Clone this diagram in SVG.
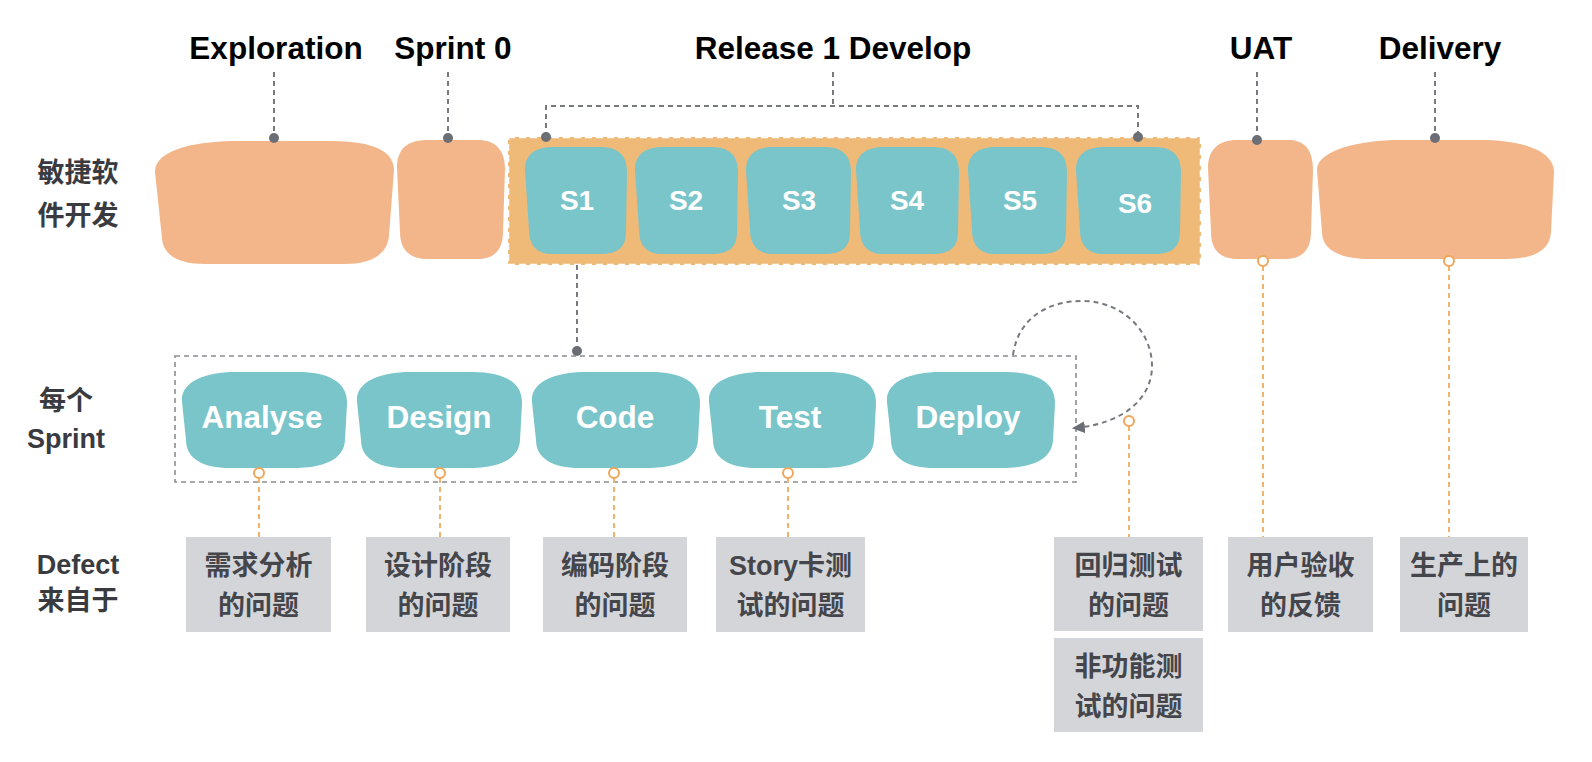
<svg xmlns="http://www.w3.org/2000/svg" width="1592" height="762" viewBox="0 0 1592 762">
<style>
.title{font-family:"Liberation Sans",Arial,sans-serif;font-weight:700;font-size:31.5px;fill:#000;text-anchor:middle}
.side{font-family:"Liberation Sans","Noto Sans CJK SC",sans-serif;font-weight:700;font-size:27px;fill:#3a3b40;text-anchor:middle}
.blob{fill:#F2B68A}
.teal{fill:#7AC5CA}
.slab{font-family:"Liberation Sans",Arial,sans-serif;font-weight:700;font-size:28px;fill:#fff;text-anchor:middle}
.plab{font-family:"Liberation Sans",Arial,sans-serif;font-weight:700;font-size:31.5px;fill:#fff;text-anchor:middle}
.gline{fill:none;stroke:#76797f;stroke-width:2;stroke-dasharray:5 4}
.dot{fill:#6B6E75}
.oline{fill:none;stroke:#F0B36E;stroke-width:2;stroke-dasharray:5 4}
.ocirc{fill:#fff;stroke:#F0A65A;stroke-width:2}
.box{fill:#D4D5D9}
.btxt{font-family:"Liberation Sans","Noto Sans CJK SC",sans-serif;font-weight:700;font-size:27px;fill:#45464b;text-anchor:middle}
</style>
<defs>
<marker id="arr" viewBox="0 0 12 12" refX="10" refY="6" markerWidth="13" markerHeight="13" orient="auto" markerUnits="userSpaceOnUse">
<path d="M0,0.5 L12,6 L0,11.5 Z" fill="#6B6E75"/>
</marker>
</defs>
<rect width="1592" height="762" fill="#fff"/>

<g id="side-labels">
<text class="side" x="78" y="182">敏捷软</text>
<text class="side" x="78" y="225">件开发</text>
<text class="side" x="66" y="410">每个</text>
<text class="side" x="66" y="448">Sprint</text>
<text class="side" x="78" y="574">Defect</text>
<text class="side" x="78" y="610">来自于</text>
</g>

<g id="titles">
<text class="title" x="276" y="59">Exploration</text>
<text class="title" x="453" y="59">Sprint 0</text>
<text class="title" x="833" y="59">Release 1 Develop</text>
<text class="title" x="1261" y="59">UAT</text>
<text class="title" x="1440" y="59">Delivery</text>
</g>

<g id="exploration">
<path class="blob" d="M155,172 C155,148 200,141 240,141 L330,141 C375,141 394,152 394,170 L389,235 C388,255 370,264 345,264 L205,264 C180,264 163,256 162,238 Z"/>
</g>
<g id="sprint0">
<path class="blob" d="M397,168 C397,148 408,140 428,140 L478,140 C495,140 505,150 505,168 L503,232 C503,250 494,259 478,259 L427,259 C410,259 400,250 400,232 Z"/>
</g>
<g id="release1">
<rect x="508" y="137" width="693" height="128" fill="#EFB978" stroke="#fff" stroke-width="2.5" stroke-dasharray="7 4"/>
</g>
<g id="s1">
<path class="teal" d="M525,170 C525,153 537,147 553,147 L600,147 C618,147 627,155 627,172 L626,232 C626,248 617,254 601,254 L552,254 C538,254 529,246 529,230 Z"/>
<text class="slab" x="577" y="210">S1</text>
</g>
<g id="s2">
<path class="teal" d="M635,170 C635,153 647,147 663,147 L711,147 C729,147 738,155 738,172 L737,232 C737,248 728,254 712,254 L662,254 C648,254 639,246 639,230 Z"/>
<text class="slab" x="686" y="210">S2</text>
</g>
<g id="s3">
<path class="teal" d="M746,170 C746,153 758,147 774,147 L824,147 C842,147 851,155 851,172 L850,232 C850,248 841,254 825,254 L773,254 C759,254 750,246 750,230 Z"/>
<text class="slab" x="799" y="210">S3</text>
</g>
<g id="s4">
<path class="teal" d="M856,170 C856,153 868,147 884,147 L932,147 C950,147 959,155 959,172 L958,232 C958,248 949,254 933,254 L883,254 C869,254 860,246 860,230 Z"/>
<text class="slab" x="907" y="210">S4</text>
</g>
<g id="s5">
<path class="teal" d="M968,170 C968,153 980,147 996,147 L1040,147 C1058,147 1067,155 1067,172 L1066,232 C1066,248 1057,254 1041,254 L995,254 C981,254 972,246 972,230 Z"/>
<text class="slab" x="1020" y="210">S5</text>
</g>
<g id="s6">
<path class="teal" d="M1076,170 C1076,153 1088,147 1104,147 L1154,147 C1172,147 1181,155 1181,172 L1180,232 C1180,248 1171,254 1155,254 L1103,254 C1089,254 1080,246 1080,230 Z"/>
<text class="slab" x="1135" y="213">S6</text>
</g>
<g id="uat">
<path class="blob" d="M1208,168 C1208,150 1218,140 1238,140 L1288,140 C1305,140 1313,150 1313,170 L1311,232 C1311,250 1302,259 1285,259 L1238,259 C1220,259 1211,250 1211,232 Z"/>
</g>
<g id="delivery">
<path class="blob" d="M1317,170 C1317,150 1360,140 1400,140 L1480,140 C1525,140 1554,152 1554,172 L1551,232 C1550,250 1535,259 1505,259 L1370,259 C1340,259 1322,250 1322,232 Z"/>
</g>

<g id="sprint-box">
<rect x="175" y="356" width="901" height="126" fill="none" stroke="#8a8d92" stroke-width="1.6" stroke-dasharray="5 4"/>
</g>
<g id="analyse">
<path class="teal" d="M182,402 C180,382 205,372 235,372 L298,372 C328,372 348,382 347,404 L345,440 C344,460 323,468 293,468 L230,468 C202,468 186,458 186,440 Z"/>
<text class="plab" x="262" y="428">Analyse</text>
</g>
<g id="design">
<path class="teal" d="M357,402 C355,382 380,372 410,372 L473,372 C503,372 523,382 522,404 L520,440 C519,460 498,468 468,468 L405,468 C377,468 361,458 361,440 Z"/>
<text class="plab" x="439" y="428">Design</text>
</g>
<g id="code">
<path class="teal" d="M532,402 C530,382 555,372 585,372 L651,372 C681,372 701,382 700,404 L698,440 C697,460 676,468 646,468 L580,468 C552,468 536,458 536,440 Z"/>
<text class="plab" x="615" y="428">Code</text>
</g>
<g id="test">
<path class="teal" d="M709,402 C707,382 732,372 762,372 L827,372 C857,372 877,382 876,404 L874,440 C873,460 852,468 822,468 L757,468 C729,468 713,458 713,440 Z"/>
<text class="plab" x="790" y="428">Test</text>
</g>
<g id="deploy">
<path class="teal" d="M887,402 C885,382 910,372 940,372 L1006,372 C1036,372 1056,382 1055,404 L1053,440 C1052,460 1031,468 1001,468 L935,468 C907,468 891,458 891,440 Z"/>
<text class="plab" x="968" y="428">Deploy</text>
</g>

<g id="defect1"><rect class="box" x="186" y="537" width="145" height="95"/><text class="btxt" x="258.5" y="575">需求分析</text><text class="btxt" x="258.5" y="615">的问题</text></g>
<g id="defect2"><rect class="box" x="366" y="537" width="144" height="95"/><text class="btxt" x="438" y="575">设计阶段</text><text class="btxt" x="438" y="615">的问题</text></g>
<g id="defect3"><rect class="box" x="543" y="537" width="144" height="95"/><text class="btxt" x="615" y="575">编码阶段</text><text class="btxt" x="615" y="615">的问题</text></g>
<g id="defect4"><rect class="box" x="716" y="537" width="149" height="95"/><text class="btxt" x="790.5" y="575">Story卡测</text><text class="btxt" x="790.5" y="615">试的问题</text></g>
<g id="defect5"><rect class="box" x="1054" y="537" width="149" height="94"/><text class="btxt" x="1128.5" y="575">回归测试</text><text class="btxt" x="1128.5" y="615">的问题</text></g>
<g id="defect6"><rect class="box" x="1054" y="638" width="149" height="94"/><text class="btxt" x="1128.5" y="676">非功能测</text><text class="btxt" x="1128.5" y="716">试的问题</text></g>
<g id="defect7"><rect class="box" x="1228" y="537" width="145" height="95"/><text class="btxt" x="1300.5" y="575">用户验收</text><text class="btxt" x="1300.5" y="615">的反馈</text></g>
<g id="defect8"><rect class="box" x="1400" y="537" width="128" height="95"/><text class="btxt" x="1464" y="575">生产上的</text><text class="btxt" x="1464" y="615">问题</text></g>

<g id="connectors">
<path class="gline" d="M274,72 V138"/>
<path class="gline" d="M448,72 V138"/>
<path class="gline" d="M833,72 V106 M546,137 V106 H1138 V137"/>
<path class="gline" d="M1257,72 V140"/>
<path class="gline" d="M1435,72 V138"/>
<path class="gline" d="M577,265 V351"/>
<circle class="dot" cx="274" cy="138" r="5"/>
<circle class="dot" cx="448" cy="138" r="5"/>
<circle class="dot" cx="546" cy="137" r="5"/>
<circle class="dot" cx="1138" cy="137" r="5"/>
<circle class="dot" cx="1257" cy="140" r="5"/>
<circle class="dot" cx="1435" cy="138" r="5"/>
<circle class="dot" cx="577" cy="351" r="5"/>
<path class="gline" d="M1013,355 C1018,318 1048,301 1082,301 C1122,301 1152,331 1152,366 C1152,398 1124,424 1074,428" marker-end="url(#arr)"/>
<path class="oline" d="M259,478 V537"/>
<path class="oline" d="M440,478 V537"/>
<path class="oline" d="M614,478 V537"/>
<path class="oline" d="M788,478 V537"/>
<path class="oline" d="M1129,426 V537"/>
<path class="oline" d="M1263,266 V537"/>
<path class="oline" d="M1449,266 V537"/>
<circle class="ocirc" cx="259" cy="473" r="5"/>
<circle class="ocirc" cx="440" cy="473" r="5"/>
<circle class="ocirc" cx="614" cy="473" r="5"/>
<circle class="ocirc" cx="788" cy="473" r="5"/>
<circle class="ocirc" cx="1129" cy="421" r="5"/>
<circle class="ocirc" cx="1263" cy="261" r="5"/>
<circle class="ocirc" cx="1449" cy="261" r="5"/>
</g>
</svg>
